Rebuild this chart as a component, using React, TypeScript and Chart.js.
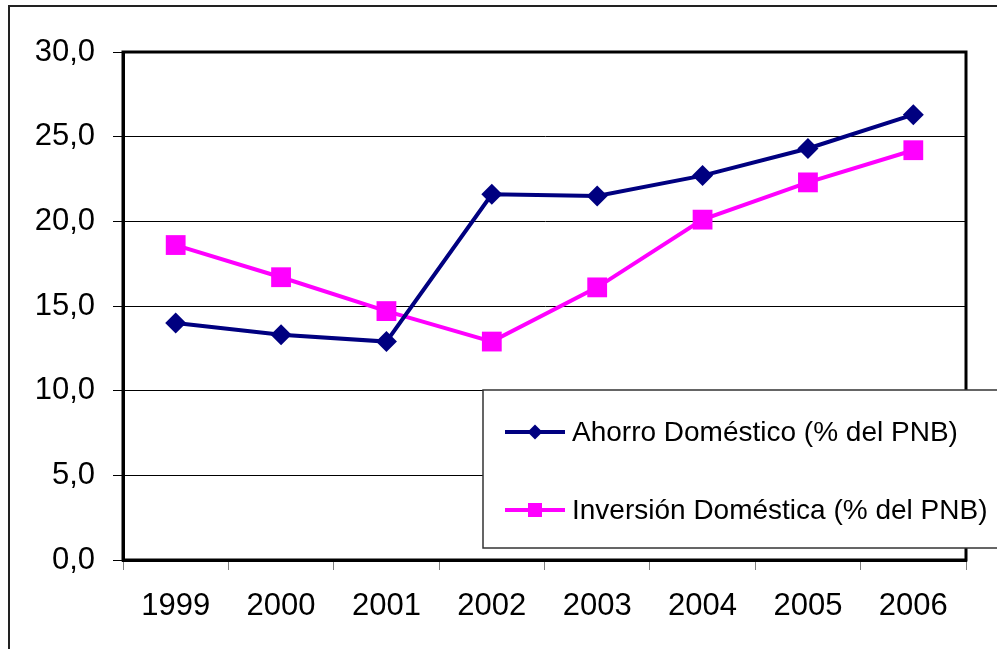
import React, { useEffect, useRef } from "react";
import { Chart, registerables } from "chart.js";
Chart.register(...registerables);

const categories = ["1999", "2000", "2001", "2002", "2003", "2004", "2005", "2006"];
const ahorro = [14.0, 13.3, 12.9, 21.6, 21.5, 22.7, 24.3, 26.3];
const inversion = [18.6, 16.7, 14.7, 12.9, 16.1, 20.1, 22.3, 24.2];
const seriesNames = ["Ahorro Doméstico (% del PNB)", "Inversión Doméstica (% del PNB)"];
const yMin = 0;
const yMax = 30;
const yStep = 5;

const NAVY = "#000080";
const MAGENTA = "#FF00FF";
const FONT = "'Liberation Sans', Arial, sans-serif";

const framePlugin = {
  id: "frame",
  beforeDraw(chart: any) {
    const ctx = chart.ctx;
    ctx.save();
    ctx.fillStyle = "#ffffff";
    ctx.fillRect(0, 0, chart.width, chart.height);
    ctx.strokeStyle = "#222222";
    ctx.lineWidth = 2;
    ctx.beginPath();
    ctx.moveTo(9, chart.height);
    ctx.lineTo(9, 6);
    ctx.lineTo(chart.width, 6);
    ctx.stroke();
    ctx.restore();
  },
  beforeDatasetsDraw(chart: any) {
    const { ctx, chartArea } = chart;
    ctx.save();
    ctx.strokeStyle = "#000000";
    ctx.lineWidth = 3;
    ctx.strokeRect(chartArea.left, chartArea.top, chartArea.right - chartArea.left, chartArea.bottom - chartArea.top);
    ctx.restore();
  },
  afterDraw(chart: any) {
    const ctx = chart.ctx;
    ctx.save();
    const bx = 483, by = 390, bw = 530, bh = 158;
    ctx.fillStyle = "#ffffff";
    ctx.fillRect(bx, by, bw, bh);
    ctx.strokeStyle = "#333333";
    ctx.lineWidth = 1.5;
    ctx.strokeRect(bx, by, bw, bh);
    const entries = [
      { name: seriesNames[0], color: NAVY, style: "diamond", y: 432 },
      { name: seriesNames[1], color: MAGENTA, style: "square", y: 510 },
    ];
    entries.forEach((e) => {
      ctx.strokeStyle = e.color;
      ctx.lineWidth = 4;
      ctx.beginPath();
      ctx.moveTo(505, e.y);
      ctx.lineTo(565, e.y);
      ctx.stroke();
      ctx.fillStyle = e.color;
      const cx = 535;
      if (e.style === "diamond") {
        ctx.beginPath();
        ctx.moveTo(cx, e.y - 7.5);
        ctx.lineTo(cx + 7.5, e.y);
        ctx.lineTo(cx, e.y + 7.5);
        ctx.lineTo(cx - 7.5, e.y);
        ctx.closePath();
        ctx.fill();
      } else {
        ctx.fillRect(cx - 7, e.y - 7, 14, 14);
      }
      ctx.fillStyle = "#000000";
      ctx.font = `28px ${FONT}`;
      ctx.textAlign = "left";
      ctx.textBaseline = "middle";
      ctx.fillText(e.name, 572, e.y + 1);
    });
    ctx.restore();
  },
};

export default function App() {
  const ref = useRef<HTMLCanvasElement | null>(null);
  useEffect(() => {
    document.body.style.margin = "0";
    if (!ref.current) return;
    Chart.defaults.font.family = FONT;
    const chart = new Chart(ref.current, {
      type: "line",
      data: {
        labels: categories,
        datasets: [
          {
            label: seriesNames[0],
            data: ahorro,
            borderColor: NAVY,
            backgroundColor: NAVY,
            borderWidth: 4,
            pointStyle: "rectRot",
            pointRadius: 10.5,
            pointBorderWidth: 0,
            pointBackgroundColor: NAVY,
            tension: 0,
          },
          {
            label: seriesNames[1],
            data: inversion,
            borderColor: MAGENTA,
            backgroundColor: MAGENTA,
            borderWidth: 4,
            pointStyle: "rect",
            pointRadius: 14,
            pointBorderWidth: 0,
            pointBackgroundColor: MAGENTA,
            tension: 0,
          },
        ],
      },
      options: {
        responsive: false,
        animation: false,
        devicePixelRatio: 1,
        layout: { padding: { left: 0, top: 52, right: 31, bottom: 0 } },
        plugins: { legend: { display: false }, tooltip: { enabled: false } },
        scales: {
          x: {
            type: "category",
            offset: true,
            grid: {
              offset: true,
              drawOnChartArea: false,
              drawTicks: true,
              tickLength: 10,
              tickColor: "#808080",
              tickWidth: 1,
            },
            border: { display: true, color: "#000000", width: 3 },
            ticks: {
              color: "#000000",
              font: { size: 31, family: FONT },
              padding: 18,
              maxRotation: 0,
              autoSkip: false,
            },
            afterFit(scale: any) {
              scale.height = 89;
            },
          },
          y: {
            min: yMin,
            max: yMax,
            grid: {
              color: "#000000",
              lineWidth: 1,
              drawTicks: true,
              tickLength: 10,
              tickColor: "#000000",
            },
            border: { display: true, color: "#000000", width: 3 },
            ticks: {
              stepSize: yStep,
              color: "#000000",
              font: { size: 31, family: FONT },
              padding: 18,
              callback: (v: any) => Number(v).toFixed(1).replace(".", ","),
            },
            afterFit(scale: any) {
              scale.width = 123;
            },
          },
        },
      },
      plugins: [framePlugin],
    });
    return () => chart.destroy();
  }, []);
  return (
    <div style={{ position: "fixed", left: 0, top: 0, width: 997, height: 649 }}>
      <canvas ref={ref} width={997} height={649} />
    </div>
  );
}
